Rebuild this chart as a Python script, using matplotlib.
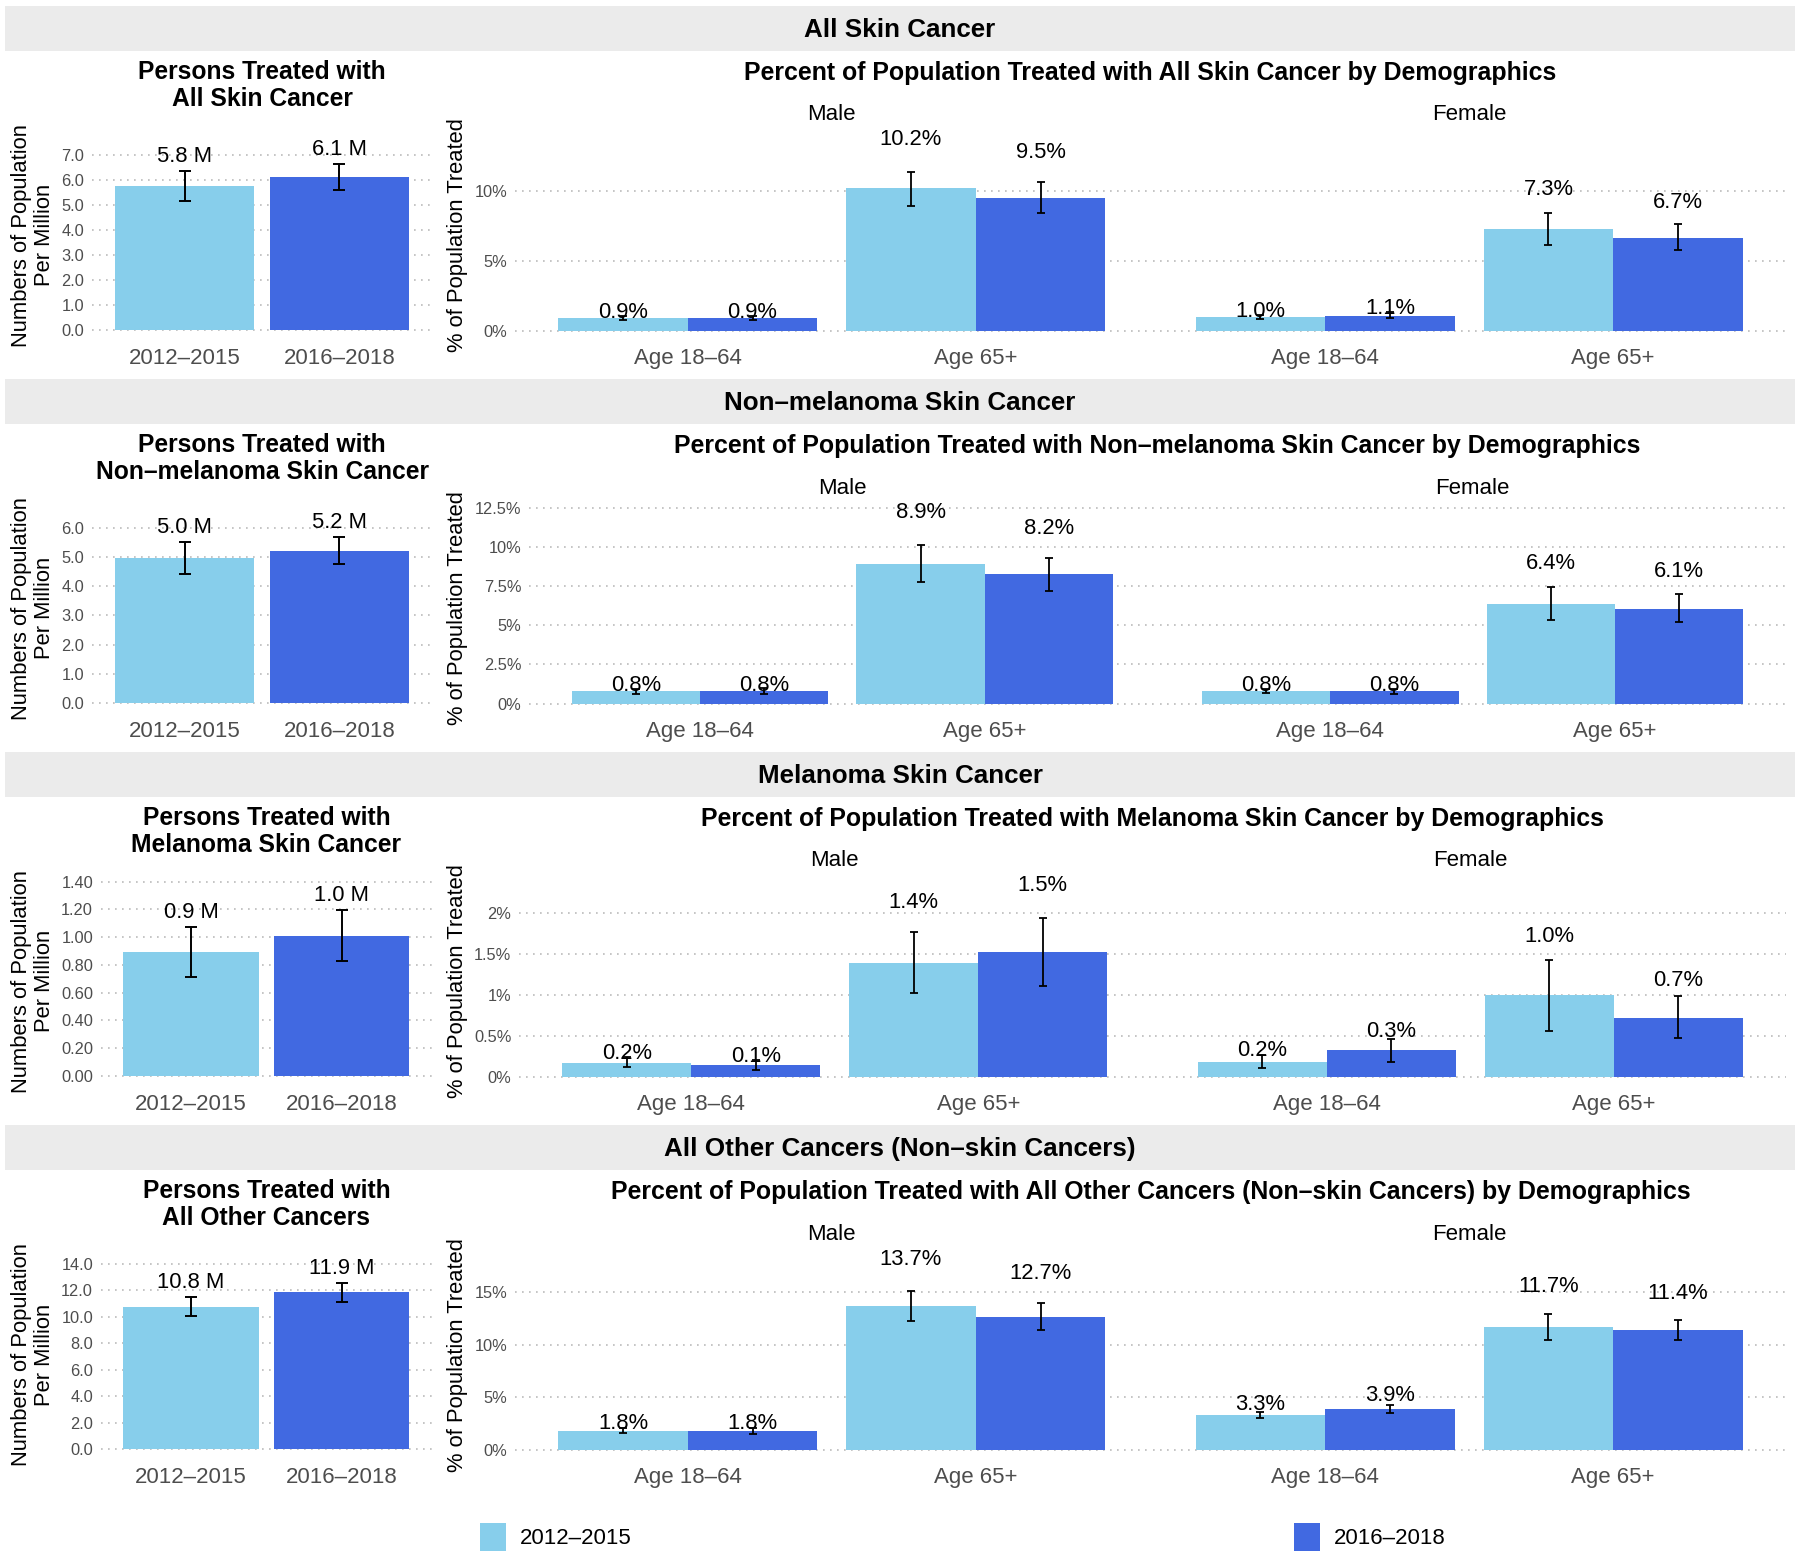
import matplotlib
matplotlib.use("Agg")
import matplotlib.pyplot as plt
from matplotlib.patches import Rectangle
from matplotlib.ticker import MultipleLocator, FuncFormatter

plt.rcParams['font.family'] = ['Liberation Sans', 'DejaVu Sans']

W, H, DPI = 1800, 1556, 100

# ---------------- data ----------------
periods = ["2012–2015", "2016–2018"]
age_groups = ["Age 18–64", "Age 65+"]
sexes = ["Male", "Female"]
period_colors = ["#87CEEB", "#4169E1"]

band_titles = ["All Skin Cancer", "Non–melanoma Skin Cancer",
               "Melanoma Skin Cancer", "All Other Cancers (Non–skin Cancers)"]
left_names = ["All Skin Cancer", "Non–melanoma Skin Cancer",
              "Melanoma Skin Cancer", "All Other Cancers"]

# persons treated (millions), per cancer type, per period
persons_val = [[5.77, 6.12], [4.99, 5.23], [0.896, 1.011], [10.77, 11.86]]
persons_lo = [[5.16, 5.61], [4.43, 4.77], [0.715, 0.831], [10.05, 11.13]]
persons_hi = [[6.35, 6.62], [5.54, 5.71], [1.076, 1.196], [11.53, 12.56]]

# percent treated: [cancer][sex][age][period]
pct_val = [
    [[[0.93, 0.93], [10.2, 9.52]], [[0.97, 1.07], [7.26, 6.66]]],
    [[[0.78, 0.82], [8.93, 8.24]], [[0.81, 0.78], [6.38, 6.06]]],
    [[[0.17, 0.14], [1.39, 1.52]], [[0.18, 0.32], [0.99, 0.72]]],
    [[[1.83, 1.81], [13.66, 12.66]], [[3.28, 3.87], [11.66, 11.37]]],
]
pct_lo = [
    [[[0.77, 0.77], [8.95, 8.40]], [[0.82, 0.93], [6.13, 5.75]]],
    [[[0.60, 0.63], [7.74, 7.19]], [[0.65, 0.60], [5.34, 5.23]]],
    [[[0.12, 0.08], [1.02, 1.11]], [[0.11, 0.18], [0.56, 0.47]]],
    [[[1.58, 1.55], [12.23, 11.37]], [[3.00, 3.50], [10.43, 10.43]]],
]
pct_hi = [
    [[[1.07, 1.08], [11.38, 10.62]], [[1.12, 1.32], [8.40, 7.62]]],
    [[[0.95, 0.98], [10.14, 9.31]], [[0.95, 0.95], [7.46, 7.00]]],
    [[[0.24, 0.20], [1.77, 1.94]], [[0.27, 0.46], [1.42, 0.98]]],
    [[[2.12, 2.10], [15.10, 14.00]], [[3.60, 4.30], [12.92, 12.35]]],
]

# ---------------- layout (pixels) ----------------
band_top = [6, 379, 752, 1125]
panel_top = [130.2, 503.2, 876.2, 1249.6]
panel_bot = [340.2, 713.2, 1086.2, 1459.6]
left_x0 = [92, 92, 100.7, 100.7]
left_x1 = 432
right_x0 = [515, 529, 519, 515]
right_x1 = 1786
facet_gap = 4
left_ylim = [(-0.41, 7.99), (-0.36, 6.86), (-0.074, 1.44), (-0.78, 15.08)]
left_step = [1.0, 1.0, 0.2, 2.0]
left_fmt = ["{:.1f}", "{:.1f}", "{:.2f}", "{:.1f}"]
right_step = [5, 2.5, 0.5, 5]

fig = plt.figure(figsize=(W / DPI, H / DPI), dpi=DPI)
fig.patch.set_facecolor('white')


def add_ax(x0, x1, top, bot):
    return fig.add_axes([x0 / W, 1 - bot / H, (x1 - x0) / W, (bot - top) / H])


def style(ax, step, fmt):
    for s in ax.spines.values():
        s.set_visible(False)
    ax.set_facecolor('none')
    ax.yaxis.set_major_locator(MultipleLocator(step))
    ax.yaxis.set_major_formatter(FuncFormatter(fmt))
    ax.tick_params(axis='both', length=0)
    ax.tick_params(axis='y', labelsize=11.8, labelcolor='#4D4D4D', pad=5.5)
    ax.tick_params(axis='x', labelsize=16, labelcolor='#4D4D4D', pad=5.5)
    ax.grid(axis='y', color='#BBBBBB', linestyle=(0, (1, 3.2)), linewidth=1.2)
    ax.set_axisbelow(True)


for r in range(4):
    bt = band_top[r]
    T, B = panel_top[r], panel_bot[r]
    # band
    fig.add_artist(Rectangle((5 / W, 1 - (bt + 45) / H), 1790 / W, 45 / H,
                             transform=fig.transFigure, facecolor='#EBEBEB',
                             edgecolor='none', zorder=0))
    fig.text(900 / W, 1 - (bt + 24) / H, band_titles[r], ha='center', va='center',
             fontsize=18.7, fontweight='bold')

    # ----- left panel -----
    ax = add_ax(left_x0[r], left_x1, T, B)
    style(ax, left_step[r], lambda v, p, f=left_fmt[r]: f.format(v))
    xs = [1, 2]
    ax.bar(xs, persons_val[r], width=0.9, color=period_colors, zorder=2)
    ax.errorbar(xs, persons_val[r],
                yerr=[[v - lo for v, lo in zip(persons_val[r], persons_lo[r])],
                      [hi - v for v, hi in zip(persons_val[r], persons_hi[r])]],
                fmt='none', ecolor='black', elinewidth=1.4, capsize=4, capthick=1.4, zorder=3)
    for x, v, hi in zip(xs, persons_val[r], persons_hi[r]):
        ax.annotate(f"{v:.1f} M", (x, hi), xytext=(0, 10.5), textcoords='offset points',
                    ha='center', va='center', fontsize=15.8)
    ax.set_xlim(0.4, 2.6)
    ax.set_ylim(*left_ylim[r])
    ax.set_xticks(xs)
    ax.set_xticklabels(periods)
    cx = (left_x0[r] + left_x1) / 2
    fig.text(cx / W, 1 - (bt + 79.5) / H, "Persons Treated with\n" + left_names[r],
             ha='center', va='center', fontsize=17.7, fontweight='bold', linespacing=1.12)
    fig.text(33 / W, 1 - ((T + B) / 2) / H, "Numbers of Population\nPer Million",
             rotation=90, ha='center', va='center', fontsize=15.8, linespacing=1.12)

    # ----- right panels (Male / Female facets) -----
    M = max(max(max(a) for a in s) for s in pct_hi[r]) * 1.2
    fw = (right_x1 - right_x0[r] - facet_gap) / 2
    for si, sex in enumerate(sexes):
        x0 = right_x0[r] + si * (fw + facet_gap)
        ax = add_ax(x0, x0 + fw, T, B)
        style(ax, right_step[r], lambda v, p: f"{v:g}%")
        if si == 1:
            ax.tick_params(axis='y', labelleft=False)
        for pi in range(2):
            xs = [a + 1 + (pi - 0.5) * 0.45 for a in range(2)]
            vals = [pct_val[r][si][a][pi] for a in range(2)]
            los = [pct_lo[r][si][a][pi] for a in range(2)]
            his = [pct_hi[r][si][a][pi] for a in range(2)]
            ax.bar(xs, vals, width=0.45, color=period_colors[pi], zorder=2)
            ax.errorbar(xs, vals, yerr=[[v - l for v, l in zip(vals, los)],
                                        [h - v for v, h in zip(vals, his)]],
                        fmt='none', ecolor='black', elinewidth=1.3, capsize=3.2,
                        capthick=1.3, zorder=3)
            for x, v, h in zip(xs, vals, his):
                ax.text(x, h * 1.2, f"{v:.1f}%", ha='center', va='center', fontsize=15.8)
        ax.set_xlim(0.4, 2.6)
        ax.set_ylim(-0.05 * M, 1.05 * M)
        ax.set_xticks([1, 2])
        ax.set_xticklabels(age_groups)
        fig.text((x0 + fw / 2) / W, 1 - (bt + 109) / H, sex, ha='center', va='center',
                 fontsize=16)
    rc = (right_x0[r] + right_x1) / 2
    fig.text(rc / W, 1 - (bt + 67) / H,
             f"Percent of Population Treated with {band_titles[r]} by Demographics",
             ha='center', va='center', fontsize=17.9, fontweight='bold')
    fig.text(458 / W, 1 - ((T + B) / 2) / H, "% of Population Treated", rotation=90,
             ha='center', va='center', fontsize=15.8)

# ----- legend -----
legend_x = [480, 1294]
for pi in range(2):
    fig.add_artist(Rectangle((legend_x[pi] / W, 1 - 1551 / H), 26 / W, 28 / H,
                             transform=fig.transFigure, facecolor=period_colors[pi],
                             edgecolor='none'))
    fig.text((legend_x[pi] + 40) / W, 1 - 1538 / H, periods[pi], ha='left', va='center',
             fontsize=16)

fig.savefig("out.png", dpi=DPI, facecolor='white')
